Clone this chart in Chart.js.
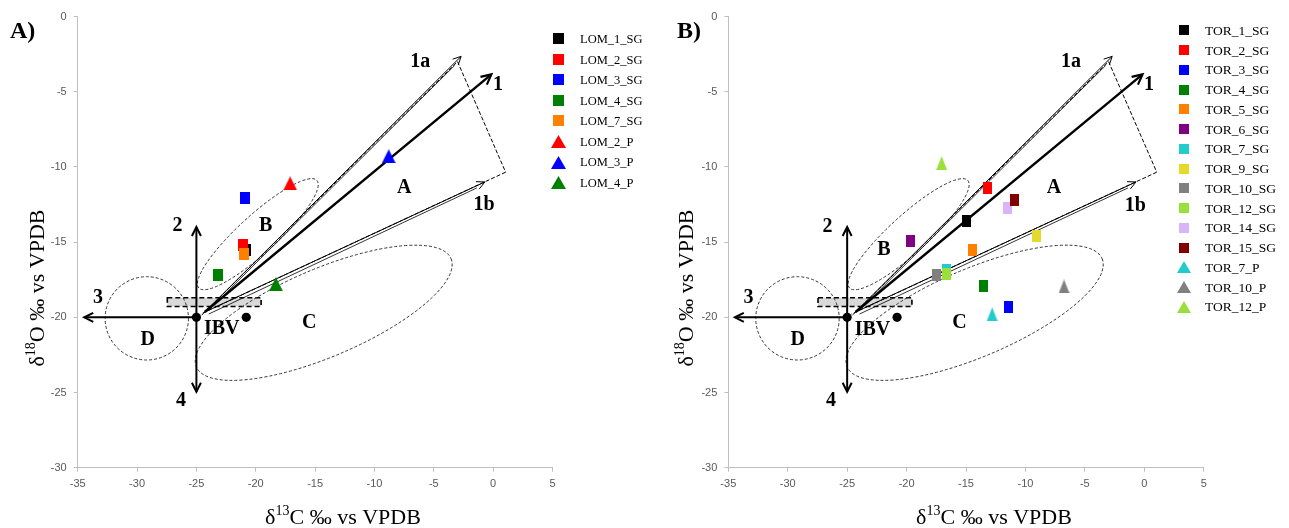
<!DOCTYPE html>
<html><head><meta charset="utf-8">
<script src="https://cdn.jsdelivr.net/npm/chart.js@4.4.0/dist/chart.umd.min.js"></script>
<style>
html,body{margin:0;padding:0;background:#fff;overflow:hidden;}
#wrap{position:relative;width:1289px;height:528px;background:#fff;}
.pane{position:absolute;top:0;height:528px;}
</style></head><body>
<div id="wrap">
<div class="pane" style="left:0;width:700px"><canvas id="cA" width="700" height="528"></canvas></div>
<div class="pane" style="left:645px;width:644px"><canvas id="cB" width="644" height="528"></canvas></div>
</div>
<script>
// ---------------- DATA ----------------
const xTicks = [-35, -30, -25, -20, -15, -10, -5, 0, 5];
const yTicks = [0, -5, -10, -15, -20, -25, -30];

// Panel A (Lomas)
const lomLabels = ['LOM_1_SG', 'LOM_2_SG', 'LOM_3_SG', 'LOM_4_SG', 'LOM_7_SG', 'LOM_2_P', 'LOM_3_P', 'LOM_4_P'];
const lomC13 = [-20.8, -21.1, -20.9, -23.2, -21.0, -17.1, -8.8, -18.3];
const lomO18 = [-15.5, -15.2, -12.1, -17.2, -15.8, -11.1, -9.3, -17.8];
const lomColors = ['#000000', '#ff0000', '#0000ff', '#008000', '#ff8000', '#ff0000', '#0000ff', '#008000'];
const lomShapes = ['square', 'square', 'square', 'square', 'square', 'triangle', 'triangle', 'triangle'];

// Panel B (Torre)
const torLabels = ['TOR_1_SG', 'TOR_2_SG', 'TOR_3_SG', 'TOR_4_SG', 'TOR_5_SG', 'TOR_6_SG', 'TOR_7_SG', 'TOR_9_SG',
  'TOR_10_SG', 'TOR_12_SG', 'TOR_14_SG', 'TOR_15_SG', 'TOR_7_P', 'TOR_10_P', 'TOR_12_P'];
const torC13 = [-15.0, -13.2, -11.4, -13.5, -14.45, -19.7, -16.65, -9.1, -17.45, -16.6, -11.55, -10.9, -12.8, -6.75, -17.05];
const torO18 = [-13.6, -11.4, -19.3, -17.9, -15.5, -14.95, -16.85, -14.6, -17.2, -17.1, -12.7, -12.2, -19.8, -17.95, -9.75];
const torColors = ['#000000', '#ff0000', '#0000ff', '#008000', '#ff8000', '#800080', '#22cccc', '#e6d92e',
  '#808080', '#99e03a', '#d8b4f8', '#800000', '#22cccc', '#808080', '#99e03a'];
const torShapes = ['square', 'square', 'square', 'square', 'square', 'square', 'square', 'square',
  'square', 'square', 'square', 'square', 'triangle', 'triangle', 'triangle'];

// Interpretive diagram (data units: δ13C, δ18O)
const ibvPoint = [-25, -20];
const secondPoint = [-20.8, -20];
const fanOrigin = [-24.3, -19.65];
const tip1 = [-0.15, -3.85];
const tip1a = [-2.7, -2.65];
const tip1b = [-0.7, -11.0];
const boxCorner1 = [-3.0, -3.0];
const boxCorner2 = [1.05, -10.35];
const tip2 = [-25, -14.0];
const tip3 = [-34.45, -20];
const tip4 = [-25, -24.95];
const bandCorners = [[-27.45, -18.7], [-19.55, -19.28]];
const ellipseDCenter = [-29.18, -20.07];
const ellipseDRadii = [3.51, 2.77];
const ellipseBEnds = [[-24.8, -18.05], [-14.85, -10.9]];
const ellipseCEnds = [[-25.0, -23.3], [-3.55, -16.1]];
const zoneLabelsA = [['1a', -6.14, -3.0], ['1', 0.4, -4.55], ['1b', -0.76, -12.55], ['A', -7.5, -11.42],
  ['B', -19.17, -13.95], ['C', -15.5, -20.4], ['D', -29.1, -21.5], ['2', -26.6, -13.95],
  ['3', -33.3, -18.7], ['4', -26.3, -25.55], ['IBV', -22.87, -20.78]];
const zoneLabelsB = [['1a', -6.17, -3.0], ['1', 0.4, -4.55], ['1b', -0.76, -12.6], ['A', -7.6, -11.42],
  ['B', -21.9, -15.5], ['C', -15.55, -20.4], ['D', -29.15, -21.5], ['2', -26.65, -13.97],
  ['3', -33.3, -18.7], ['4', -26.35, -25.56], ['IBV', -22.87, -20.8]];

// ---------------- STYLE ----------------
const SERIF = '"Liberation Serif", "Times New Roman", serif';
const SANS = '"Liberation Sans", Arial, sans-serif';
const Y_W = 40, X_H = 30;

function makeMarker(shape, color, w, h) {
  const c = document.createElement('canvas');
  c.width = w; c.height = h;
  const g = c.getContext('2d');
  g.fillStyle = color;
  if (shape === 'square') { g.fillRect(0, 0, w, h); }
  else { g.beginPath(); g.moveTo(w / 2, 0); g.lineTo(w, h); g.lineTo(0, h); g.closePath(); g.fill(); }
  return c;
}

function arrowHead(ctx, x1, y1, x2, y2, len, hw) {
  const a = Math.atan2(y2 - y1, x2 - x1), c = Math.cos(a), s = Math.sin(a);
  ctx.beginPath();
  ctx.moveTo(x2 - len * c + hw * s, y2 - len * s - hw * c);
  ctx.lineTo(x2, y2);
  ctx.lineTo(x2 - len * c - hw * s, y2 - len * s + hw * c);
  ctx.stroke();
}

function drawRich(ctx, parts, x, y) {
  const big = 'normal 22px ' + SERIF, small = 'normal 14px ' + SERIF;
  let total = 0;
  parts.forEach(p => { ctx.font = p[1] ? small : big; total += ctx.measureText(p[0]).width; });
  let cx = x - total / 2;
  ctx.textAlign = 'left'; ctx.textBaseline = 'alphabetic';
  parts.forEach(p => {
    ctx.font = p[1] ? small : big;
    ctx.fillText(p[0], cx, p[1] ? y - 9 : y);
    cx += ctx.measureText(p[0]).width;
  });
}

function diagramPlugin(zoneLabels) {
  return {
    id: 'diagram',
    beforeDatasetsDraw(chart) {
      const xs = chart.scales.x, ys = chart.scales.y, ctx = chart.ctx;
      const P = p => [xs.getPixelForValue(p[0]), ys.getPixelForValue(p[1])];
      ctx.save();
      ctx.lineCap = 'butt';
      const b0 = P(bandCorners[0]), b1 = P(bandCorners[1]);
      ctx.fillStyle = '#d9d9d9';
      ctx.fillRect(b0[0], b0[1], b1[0] - b0[0], b1[1] - b0[1]);
      ctx.setLineDash([5, 3]); ctx.lineWidth = 1.6; ctx.strokeStyle = '#000';
      ctx.strokeRect(b0[0], b0[1], b1[0] - b0[0], b1[1] - b0[1]);
      ctx.setLineDash([3, 2]); ctx.lineWidth = 1; ctx.strokeStyle = '#333';
      const dc = P(ellipseDCenter);
      const drx = Math.abs(xs.getPixelForValue(ellipseDCenter[0] + ellipseDRadii[0]) - dc[0]);
      const dry = Math.abs(ys.getPixelForValue(ellipseDCenter[1] + ellipseDRadii[1]) - dc[1]);
      ctx.beginPath(); ctx.ellipse(dc[0], dc[1], drx, dry, 0, 0, Math.PI * 2); ctx.stroke();
      [[ellipseBEnds, 19], [ellipseCEnds, 44]].forEach(([ends, half]) => {
        const e0 = P(ends[0]), e1 = P(ends[1]);
        const cx = (e0[0] + e1[0]) / 2, cy = (e0[1] + e1[1]) / 2;
        const a = Math.hypot(e1[0] - e0[0], e1[1] - e0[1]) / 2;
        const rot = Math.atan2(e1[1] - e0[1], e1[0] - e0[0]);
        ctx.beginPath(); ctx.ellipse(cx, cy, a, half, rot, 0, Math.PI * 2); ctx.stroke();
      });
      const o = P(fanOrigin);
      const line = (p, q, w, dash) => {
        ctx.setLineDash(dash || []); ctx.lineWidth = w;
        ctx.beginPath(); ctx.moveTo(p[0], p[1]); ctx.lineTo(q[0], q[1]); ctx.stroke();
      };
      ctx.strokeStyle = '#000';
      const c1 = P(boxCorner1), c2 = P(boxCorner2);
      const t1a = P(tip1a), t1b = P(tip1b), t1 = P(tip1);
      line([o[0] - 3, o[1] + 3], c1, 1, [4, 2]);
      line([o[0] + 3, o[1] - 1], [c1[0] - 3, c1[1] + 4], 0.8);
      line(o, t1a, 1);
      line(c1, c2, 1, [4, 2]);
      line(c2, [o[0] - 4, o[1] + 2], 1, [4, 2]);
      line([o[0] + 4, o[1] + 2], [t1b[0] - 8, t1b[1] + 6], 0.8);
      line(o, t1b, 1);
      ctx.setLineDash([]); ctx.lineWidth = 1;
      arrowHead(ctx, o[0], o[1], t1a[0], t1a[1], 8, 4);
      arrowHead(ctx, o[0], o[1], t1b[0], t1b[1], 8, 4);
      line(o, t1, 2.4);
      ctx.lineWidth = 2.2; arrowHead(ctx, o[0], o[1], t1[0], t1[1], 10, 5);
      const ib = P(ibvPoint);
      [tip2, tip3, tip4].forEach(t => {
        const q = P(t);
        line(ib, q, 2);
        ctx.lineWidth = 2; arrowHead(ctx, ib[0], ib[1], q[0], q[1], 9, 4.5);
      });
      ctx.fillStyle = '#000';
      [ibvPoint, secondPoint].forEach(p => {
        const q = P(p); ctx.beginPath(); ctx.arc(q[0], q[1], 4.6, 0, Math.PI * 2); ctx.fill();
      });
      ctx.font = 'bold 20px ' + SERIF; ctx.textAlign = 'center'; ctx.textBaseline = 'middle';
      zoneLabels.forEach(l => { const q = P([l[1], l[2]]); ctx.fillText(l[0], q[0], q[1]); });
      ctx.restore();
    }
  };
}

function framePlugin(cfg) {
  return {
    id: 'frame',
    afterDraw(chart) {
      const ctx = chart.ctx;
      ctx.save();
      ctx.font = cfg.legFont + 'px ' + SERIF; ctx.fillStyle = '#000'; ctx.textBaseline = 'middle'; ctx.textAlign = 'left';
      chart.data.datasets.forEach((ds, i) => {
        const y = cfg.legY0 + i * cfg.legDy, m = ds.legendMarker;
        ctx.drawImage(m, Math.round(cfg.legMx - m.width / 2), Math.round(y - m.height / 2));
        ctx.fillText(ds.label, cfg.legTx, y + 1);
      });
      ctx.font = 'bold 24px ' + SERIF; ctx.textBaseline = 'alphabetic';
      ctx.fillText(cfg.tag, cfg.tagX, cfg.tagY);
      ctx.fillStyle = '#000';
      drawRich(ctx, [['δ', 0], ['13', 1], ['C ‰ vs VPDB', 0]], cfg.xtX, cfg.xtY);
      ctx.save();
      ctx.translate(cfg.ytX, cfg.ytY); ctx.rotate(-Math.PI / 2);
      drawRich(ctx, [['δ', 0], ['18', 1], ['O ‰ vs VPDB', 0]], 0, 0);
      ctx.restore();
      ctx.restore();
    }
  };
}

function buildChart(id, geom, labels, xs, ys, colors, shapes, mk, zoneLabels, cfg) {
  const n = labels.length;
  const datasets = labels.map((lab, i) => ({
    label: lab,
    data: [{ x: xs[i], y: ys[i] }],
    pointStyle: shapes[i] === 'square' ? makeMarker('square', colors[i], mk.sq[0], mk.sq[1]) : makeMarker('triangle', colors[i], mk.tr[0], mk.tr[1]),
    legendMarker: shapes[i] === 'square' ? makeMarker('square', colors[i], mk.lsq[0], mk.lsq[1]) : makeMarker('triangle', colors[i], mk.ltr[0], mk.ltr[1]),
    pointRadius: 6,
    showLine: false,
    order: n - i
  }));
  const axisCommon = {
    type: 'linear',
    grid: { drawOnChartArea: false, drawTicks: true, tickLength: 4, color: '#bfbfbf', lineWidth: 1 },
    border: { display: true, color: '#bfbfbf', width: 1 },
    ticks: { color: '#595959', font: { family: SANS, size: 11 } }
  };
  return new Chart(document.getElementById(id), {
    type: 'scatter',
    data: { datasets },
    options: {
      responsive: false, animation: false, events: [],
      layout: { padding: { left: geom.left - Y_W, right: geom.w - geom.right, top: geom.top, bottom: 528 - geom.bottom - X_H } },
      plugins: { legend: { display: false }, tooltip: { enabled: false } },
      scales: {
        x: Object.assign({}, axisCommon, {
          min: -35, max: 5,
          ticks: Object.assign({}, axisCommon.ticks, { padding: 6 }),
          afterBuildTicks: s => { s.ticks = xTicks.map(v => ({ value: v })); },
          afterFit: s => { s.height = X_H; }
        }),
        y: Object.assign({}, axisCommon, {
          min: -30, max: 0,
          ticks: Object.assign({}, axisCommon.ticks, { padding: 7 }),
          afterBuildTicks: s => { s.ticks = yTicks.map(v => ({ value: v })); },
          afterFit: s => { s.width = Y_W; }
        })
      }
    },
    plugins: [diagramPlugin(zoneLabels), framePlugin(cfg)]
  });
}

buildChart('cA', { w: 700, left: 77.7, right: 552.5, top: 16.5, bottom: 467.7 },
  lomLabels, lomC13, lomO18, lomColors, lomShapes,
  { sq: [10, 12], tr: [14, 14], lsq: [11, 11], ltr: [15, 13] }, zoneLabelsA,
  { legFont: 12.5, legY0: 38.7, legDy: 20.55, legMx: 558.5, legTx: 580, tag: 'A)', tagX: 10, tagY: 38,
    xtX: 343, xtY: 523.5, ytX: 44, ytY: 288 });

buildChart('cB', { w: 644, left: 83.3, right: 558.7, top: 16.5, bottom: 467.7 },
  torLabels, torC13, torO18, torColors, torShapes,
  { sq: [9, 12], tr: [11, 14], lsq: [10, 10], ltr: [14, 12] }, zoneLabelsB,
  { legFont: 13.5, legY0: 30.3, legDy: 19.76, legMx: 539, legTx: 560, tag: 'B)', tagX: 32, tagY: 38,
    xtX: 349, xtY: 523.5, ytX: 48, ytY: 288 });
</script>
</body></html>
